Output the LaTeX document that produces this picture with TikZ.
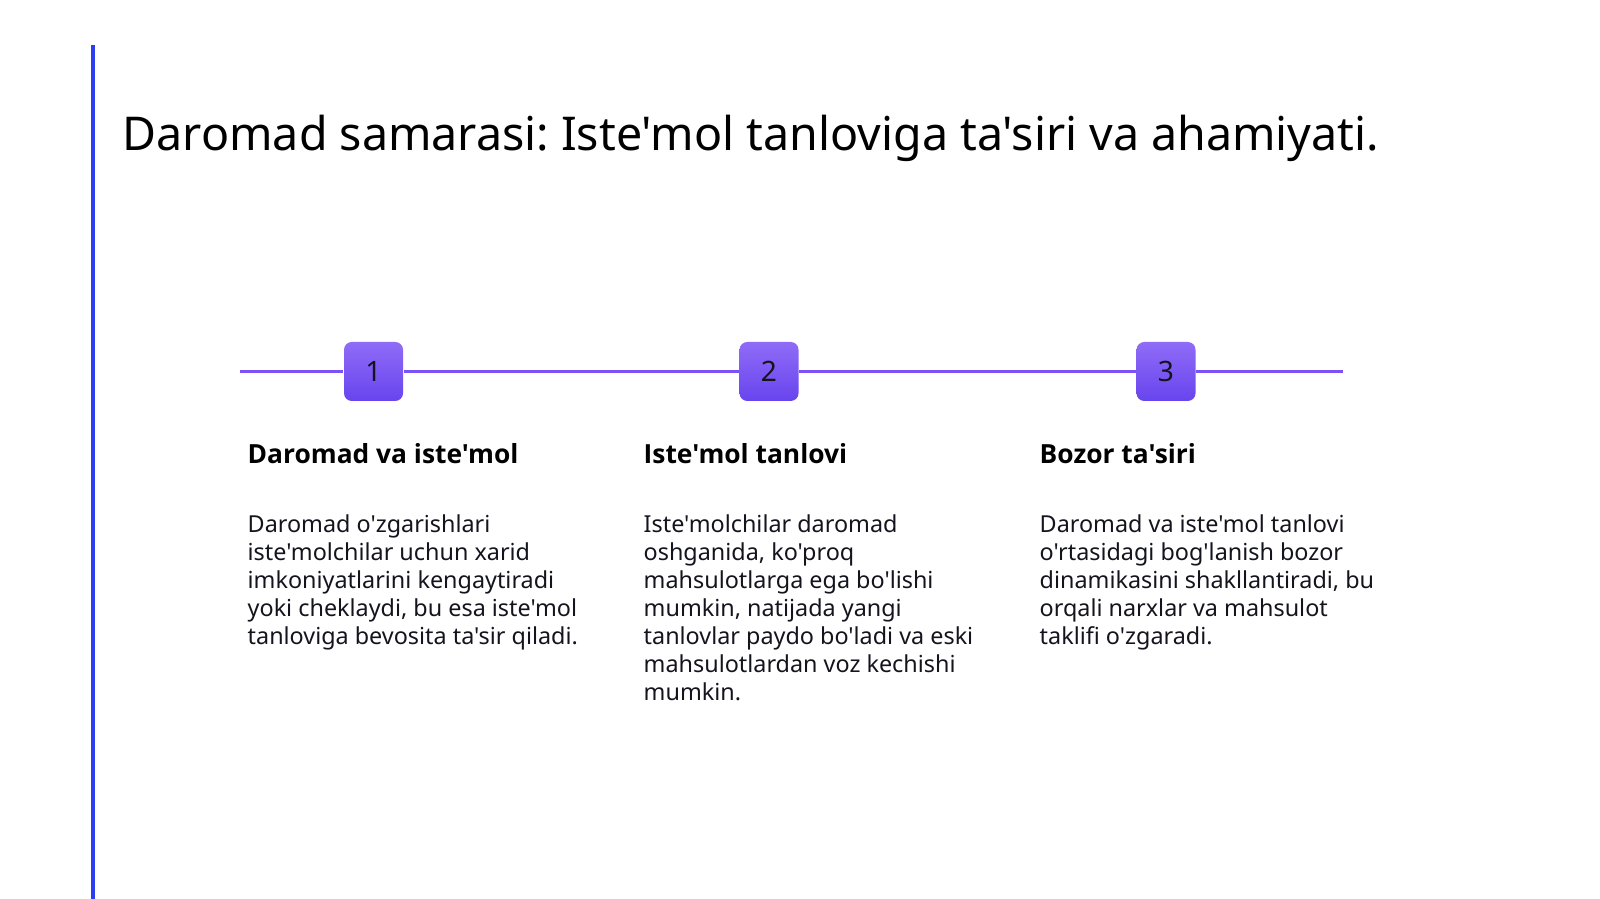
\documentclass[tikz,border=0pt]{standalone}
\usepackage{fontspec}
\setmainfont{Noto Sans}[Ligatures=TeXOff]
\newfontfamily\headfont{Open Sans}[Ligatures=TeXOff]
\usetikzlibrary{positioning, backgrounds}
\definecolor{accentblue}{RGB}{43,63,240}
\definecolor{stepviolet}{RGB}{124,82,246}
\definecolor{stepdeep}{RGB}{104,68,238}
\definecolor{inkdark}{RGB}{20,20,30}
\frenchspacing

\tikzset{
  stepbox/.style={rounded corners=2.2pt, minimum size=0.59cm, inner sep=0pt,
    top color=stepviolet!85!white, bottom color=stepdeep, draw=none,
    font=\fontsize{8}{8}\selectfont, text=inkdark},
  headtext/.style={anchor=base west, inner sep=0pt, font=\headfont\bfseries\fontsize{7.5}{9}\selectfont, text=black},
  bodytext/.style={anchor=north west, align=left, inner sep=0pt,
    font=\fontsize{6.65}{7.97}\selectfont, text=inkdark}
}

\begin{document}
\begin{tikzpicture}
  \useasboundingbox (0,0) rectangle (16,-8.99);
  % accent bar on the left
  \draw[accentblue, line width=0.95pt] (0.93,-0.45) -- (0.93,-8.99);
  % title
  \node[anchor=base west, inner sep=0pt, font=\fontsize{13.25}{16}\selectfont] (title) at (1.22,-1.51)
    {Daromad samarasi: Iste'mol tanloviga ta'siri va ahamiyati.};
  % steps
  \node[stepbox] (n1) at (3.735,-3.715) {1};
  \node[stepbox] (n2) at (7.69,-3.715) {2};
  \node[stepbox] (n3) at (11.66,-3.715) {3};
  \coordinate (tl-start) at (2.40,-3.715);
  \coordinate (tl-end) at (13.43,-3.715);
  \begin{scope}[on background layer]
    \draw[stepviolet, line width=0.85pt] (tl-start) -- (n1) -- (n2) -- (n3) -- (tl-end);
  \end{scope}
  % headings
  \node[headtext] (h1) at (2.47,-4.64) {Daromad va iste'mol};
  \node[headtext] (h2) at (6.43,-4.64) {Iste'mol tanlovi};
  \node[headtext] (h3) at (10.39,-4.64) {Bozor ta'siri};
  % descriptions
  \node[bodytext] (b1) at (2.47,-5.14) {Daromad o'zgarishlari\\iste'molchilar uchun xarid\\imkoniyatlarini kengaytiradi\\yoki cheklaydi, bu esa iste'mol\\tanloviga bevosita ta'sir qiladi.};
  \node[bodytext] (b2) at (6.43,-5.14) {Iste'molchilar daromad\\oshganida, ko'proq\\mahsulotlarga ega bo'lishi\\mumkin, natijada yangi\\tanlovlar paydo bo'ladi va eski\\mahsulotlardan voz kechishi\\mumkin.};
  \node[bodytext] (b3) at (10.39,-5.14) {Daromad va iste'mol tanlovi\\o'rtasidagi bog'lanish bozor\\dinamikasini shakllantiradi, bu\\orqali narxlar va mahsulot\\taklifi o'zgaradi.};
\end{tikzpicture}
\end{document}
